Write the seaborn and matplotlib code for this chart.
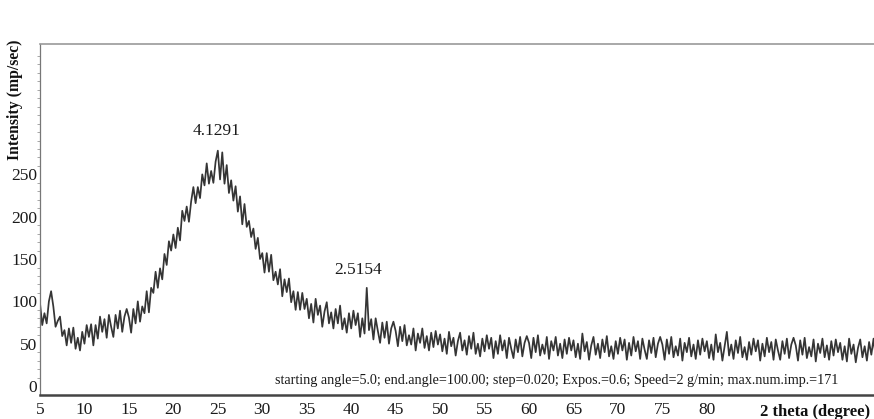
import numpy as np
import pandas as pd
import matplotlib
matplotlib.use("Agg")
import matplotlib.pyplot as plt
import seaborn as sns

# ---- data ----
scan_start = 5.0
scan_step = 0.25
intensity = [
    # 5.00 - 9.75
    98, 72, 86, 74, 100, 112, 94, 70, 77, 82, 59, 66, 48, 68, 51, 69, 44, 57, 42, 64,
    # 10.00 - 14.75
    50, 72, 58, 73, 48, 72, 56, 82, 64, 79, 57, 84, 70, 58, 84, 68, 89, 64, 82, 91,
    # 15.00 - 19.75
    81, 63, 91, 74, 100, 76, 94, 86, 112, 87, 116, 110, 135, 116, 139, 126, 156, 143, 171, 160,
    # 20.00 - 24.75
    179, 163, 187, 172, 207, 195, 212, 194, 218, 235, 216, 235, 222, 250, 237, 263, 239, 254, 240, 265,
    # 25.00 - 29.75
    278, 244, 276, 239, 261, 228, 243, 219, 236, 206, 224, 191, 215, 188, 195, 176, 186, 162, 175, 150,
    # 30.00 - 34.75
    157, 134, 157, 135, 155, 125, 135, 120, 138, 106, 126, 111, 127, 99, 112, 90, 111, 90, 110, 91,
    # 35.00 - 39.75
    103, 80, 97, 75, 103, 84, 95, 70, 88, 99, 74, 87, 68, 91, 74, 95, 67, 80, 63, 86,
    # 40.00 - 44.75
    68, 89, 72, 86, 58, 80, 62, 116, 66, 79, 55, 80, 65, 51, 75, 57, 76, 50, 68, 76,
    # 45.00 - 49.75
    65, 47, 70, 53, 72, 48, 60, 49, 68, 42, 62, 51, 68, 45, 59, 42, 63, 46, 65, 49,
    # 50.00 - 54.75
    61, 41, 56, 38, 64, 47, 57, 36, 53, 63, 42, 54, 37, 59, 44, 63, 38, 50, 35, 56,
    # 55.00 - 59.75
    41, 60, 44, 57, 33, 53, 38, 60, 42, 54, 33, 57, 44, 33, 55, 40, 58, 35, 51, 59,
    # 60.00 - 64.75
    51, 33, 57, 40, 60, 36, 49, 38, 58, 32, 53, 42, 58, 36, 50, 33, 55, 38, 57, 42,
    # 65.00 - 69.75
    54, 34, 50, 32, 62, 41, 52, 31, 48, 58, 37, 50, 33, 55, 40, 59, 35, 47, 32, 53,
    # 70.00 - 74.75
    38, 57, 42, 55, 31, 51, 36, 58, 41, 53, 32, 56, 43, 32, 54, 39, 57, 34, 50, 58,
    # 75.00 - 79.75
    49, 31, 55, 38, 58, 34, 47, 36, 56, 30, 51, 40, 57, 35, 49, 32, 54, 37, 56, 41,
    # 80.00 - 84.75
    53, 33, 49, 31, 61, 40, 51, 30, 47, 64, 36, 49, 32, 54, 39, 58, 34, 46, 31, 52,
    # 85.00 - 89.75
    37, 56, 41, 54, 30, 50, 35, 57, 40, 52, 31, 55, 42, 31, 53, 38, 56, 33, 49, 57,
    # 90.00 - 94.75
    48, 30, 54, 37, 57, 33, 46, 35, 55, 29, 50, 39, 56, 34, 48, 31, 53, 36, 55, 40,
    # 95.00 - 99.75
    51, 31, 47, 29, 56, 38, 49, 28, 45, 55, 34, 47, 30, 52, 37, 56, 32, 44, 29, 50,
]
two_theta = scan_start + scan_step * np.arange(len(intensity))

x_ticks = [5, 10, 15, 20, 25, 30, 35, 40, 45, 50, 55, 60, 65, 70, 75, 80]
y_ticks = [0, 50, 100, 150, 200, 250]

peak_labels = ["4.1291", "2.5154"]
peak_pos = [24.9, 40.8]
peak_text_y = [301, 137]

info_text = ("starting angle=5.0; end.angle=100.00; step=0.020; Expos.=0.6; "
             "Speed=2 g/min; max.num.imp.=171")

df = pd.DataFrame({"two_theta": two_theta, "intensity": intensity})

# ---- style ----
sns.set_theme(style="white")
plt.rcParams["font.family"] = ["Liberation Serif", "DejaVu Serif"]

fig = plt.figure(figsize=(8.74, 4.19), dpi=100)
ax = fig.add_axes([40 / 874, 1 - 395 / 419, 834 / 874, 351 / 419])

sns.lineplot(data=df, x="two_theta", y="intensity", ax=ax,
             color="#111111", linewidth=1.25, alpha=0.85)

ax.set_xlim(5, 98.8)
ax.set_ylim(-10.6, 404)

ax.set_xticks(x_ticks)
ax.set_xticklabels([str(t) for t in x_ticks])
ax.set_yticks(y_ticks)
ax.set_yticklabels([str(t) for t in y_ticks])
ax.set_yticks(np.arange(0, 400, 10), minor=True)
ax.tick_params(axis="x", length=0, pad=5, labelsize=12.5, colors="#1a1a1a")
ax.tick_params(axis="y", which="major", length=0, pad=2, labelsize=12.5, colors="#1a1a1a")
ax.tick_params(axis="y", which="minor", length=2, width=0.6, color="#999", left=True)

ax.set_xlabel("")
ax.set_ylabel("")

ax.spines["right"].set_visible(False)
ax.spines["top"].set_color("#9a9a9a")
ax.spines["top"].set_linewidth(1.2)
ax.spines["left"].set_color("#777")
ax.spines["left"].set_linewidth(0.9)
ax.spines["bottom"].set_color("#444")
ax.spines["bottom"].set_linewidth(1.8)

for lab, px, py in zip(peak_labels, peak_pos, peak_text_y):
    ax.text(px, py, lab, ha="center", va="center", fontsize=12.5, color="#1a1a1a")

ax.text(63.1, 7, info_text, ha="center", va="center", fontsize=10.2, color="#1a1a1a")

fig.text(815 / 874, 1 - 412 / 419, "2 theta (degree)", ha="center", va="center",
         fontsize=12, fontweight="bold", color="#111")
fig.text(15 / 874, 1 - 100 / 419, "Intensity (mp/sec)", ha="center", va="center",
         rotation=90, fontsize=11.3, fontweight="bold", color="#111")

fig.savefig("out.png", dpi=100, facecolor="white")
